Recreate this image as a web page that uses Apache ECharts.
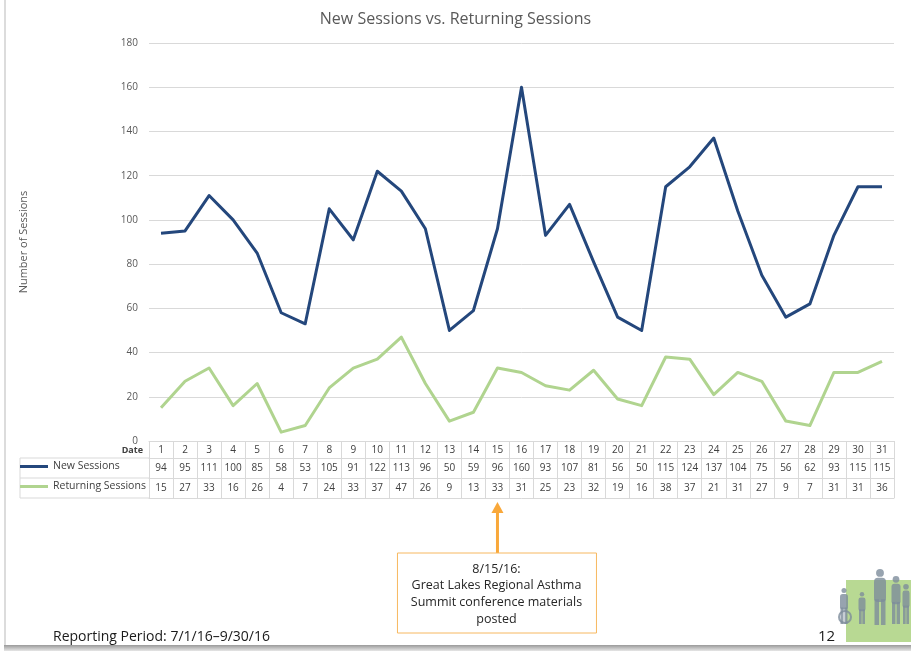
<!DOCTYPE html>
<html>
<head>
<meta charset="utf-8">
<script src="https://cdn.jsdelivr.net/npm/echarts@6/dist/echarts.min.js"></script>
<style>
html,body{margin:0;padding:0;background:#fff;}
#c{width:911px;height:651px;}
</style>
</head>
<body>
<div id="c"></div>
<script>
var dates = ['1','2','3','4','5','6','7','8','9','10','11','12','13','14','15','16','17','18','19','20','21','22','23','24','25','26','27','28','29','30','31'];
var newSessions = [94,95,111,100,85,58,53,105,91,122,113,96,50,59,96,160,93,107,81,56,50,115,124,137,104,75,56,62,93,115,115];
var returningSessions = [15,27,33,16,26,4,7,24,33,37,47,26,9,13,33,31,25,23,32,19,16,38,37,21,31,27,9,7,31,31,36];
var yTicks = {min: 0, max: 180, interval: 20};
var annotationDate = '15';
var annotationText = '8/15/16:\nGreat Lakes Regional Asthma\nSummit conference materials\nposted';

var FONT = '"Open Sans", "Noto Sans", sans-serif';
var GRIDC = '#d9d9d9';
var TXT = '#404040';
var NAVY = '#24477c';
var GREEN = '#b0d48f';

var chart = echarts.init(document.getElementById('c'), null, {renderer: 'canvas'});

function tableAxis(offset, values) {
  return {
    type: 'category', data: dates, position: 'bottom', gridIndex: 0, offset: offset,
    axisLine: {show: true, lineStyle: {color: GRIDC, width: 1}},
    axisTick: {show: false},
    axisLabel: values ? {
      show: true, interval: 0, margin: 5, color: TXT, fontSize: 10, fontFamily: FONT,
      formatter: function (v, i) { return String(values[i]); }
    } : {show: false},
    splitLine: {show: false}
  };
}

var option = {
  backgroundColor: '#fff',
  animation: false,
  textStyle: {fontFamily: FONT},
  title: {
    text: 'New Sessions vs. Returning Sessions',
    left: 'center', top: 6,
    textStyle: {fontSize: 16, fontWeight: 'normal', color: '#595959', fontFamily: FONT}
  },
  grid: {left: 149, right: 17, top: 43, bottom: 210, containLabel: false},
  legend: [
    {data: ['New Sessions'], left: 20, top: 461, padding: 0, icon: 'rect', itemWidth: 28, itemHeight: 3,
     textStyle: {color: TXT, fontSize: 10.5, fontFamily: FONT}, selectedMode: false},
    {data: ['Returning Sessions'], left: 20, top: 481, padding: 0, icon: 'rect', itemWidth: 28, itemHeight: 3,
     textStyle: {color: TXT, fontSize: 10.5, fontFamily: FONT}, selectedMode: false}
  ],
  xAxis: [
    {
      type: 'category', data: dates, position: 'bottom', boundaryGap: true,
      name: 'Date', nameLocation: 'start', nameGap: 6,
      nameTextStyle: {fontSize: 9, fontWeight: 'bold', color: TXT, fontFamily: FONT, verticalAlign: 'top', padding: [5, 0, 0, 0]},
      axisLine: {show: true, lineStyle: {color: GRIDC, width: 1}},
      axisTick: {show: true, interval: 0, length: 57, lineStyle: {color: GRIDC, width: 1}},
      axisLabel: {show: true, interval: 0, margin: 4, color: TXT, fontSize: 10, fontFamily: FONT},
      splitLine: {show: false}
    },
    tableAxis(17, newSessions),
    tableAxis(37, returningSessions),
    tableAxis(57, null)
  ],
  yAxis: {
    type: 'value', min: yTicks.min, max: yTicks.max, interval: yTicks.interval,
    name: 'Number of Sessions', nameLocation: 'middle', nameGap: 120,
    nameTextStyle: {color: '#595959', fontSize: 11, fontFamily: FONT},
    axisLine: {show: false}, axisTick: {show: false},
    axisLabel: {margin: 11, color: '#595959', fontSize: 10, fontFamily: FONT},
    splitLine: {show: true, lineStyle: {color: GRIDC, width: 1}}
  },
  series: [
    {name: 'New Sessions', type: 'line', data: newSessions, xAxisIndex: 0, showSymbol: false, symbol: 'none',
     itemStyle: {color: NAVY}, lineStyle: {color: NAVY, width: 3, join: 'round'}, z: 3},
    {name: 'Returning Sessions', type: 'line', data: returningSessions, xAxisIndex: 0, showSymbol: false, symbol: 'none',
     itemStyle: {color: GREEN}, lineStyle: {color: GREEN, width: 3, join: 'round'}, z: 2}
  ]
};
chart.setOption(option);

// decorations
var ax = chart.convertToPixel({xAxisIndex: 0}, annotationDate);
var baseY = chart.convertToPixel({yAxisIndex: 0}, 0);
var tableBottom = baseY + 57;

function hline(x1, x2, y) {
  return {type: 'line', shape: {x1: x1, y1: y, x2: x2, y2: y}, style: {stroke: GRIDC, lineWidth: 1}, silent: true};
}
var PC = 'rgba(125,140,155,0.8)';
function person(cx, top, h, w) {
  var head = h * 0.14;
  return [
    {type: 'circle', shape: {cx: cx, cy: top + head / 2, r: head / 2}, style: {fill: PC}},
    {type: 'rect', shape: {x: cx - w / 2, y: top + head + 1, width: w, height: h * 0.43, r: w / 3}, style: {fill: PC}},
    {type: 'rect', shape: {x: cx - w / 2 + 0.5, y: top + head + h * 0.40, width: w * 0.38, height: h * 0.46}, style: {fill: PC}},
    {type: 'rect', shape: {x: cx + w / 2 - 0.5 - w * 0.38, y: top + head + h * 0.40, width: w * 0.38, height: h * 0.46}, style: {fill: PC}}
  ];
}

var graphics = [
  // legend cell borders
  hline(20, 150, baseY + 17), hline(20, 150, baseY + 37), hline(20, 150, baseY + 57),
  {type: 'line', shape: {x1: 20, y1: baseY + 17, x2: 20, y2: baseY + 57}, style: {stroke: GRIDC, lineWidth: 1}, silent: true},
  // annotation arrow
  {type: 'rect', shape: {x: ax - 1.5, y: tableBottom + 12, width: 3, height: 553 - tableBottom - 12}, style: {fill: '#f9a83a'}},
  {type: 'polygon', shape: {points: [[ax, tableBottom + 4], [ax - 6, tableBottom + 15], [ax + 6, tableBottom + 15]]}, style: {fill: '#f9a83a'}},
  // annotation box
  {type: 'rect', shape: {x: ax - 100, y: 553, width: 199, height: 80}, style: {fill: '#fff', stroke: '#f7b860', lineWidth: 1}},
  {type: 'text', x: ax - 1, y: 594, style: {text: annotationText, fill: '#262626', font: '12.5px ' + FONT, align: 'center', verticalAlign: 'middle', lineHeight: 16.7}},
  // footer
  {type: 'text', x: 53, y: 637, style: {text: 'Reporting Period: 7/1/16\u20139/30/16', fill: '#1a1a1a', font: '14px ' + FONT, verticalAlign: 'middle'}},
  {type: 'text', x: 818, y: 637, style: {text: '12', fill: '#1a1a1a', font: '15px ' + FONT, verticalAlign: 'middle'}},
  // logo
  {type: 'rect', shape: {x: 846, y: 580, width: 65, height: 62}, style: {fill: '#b8d993'}},
  // slide border shadows
  {type: 'rect', shape: {x: 4, y: 0, width: 2, height: 646}, style: {fill: '#dcdcdc'}},
  {type: 'rect', shape: {x: 4, y: 645, width: 907, height: 6}, style: {fill: new echarts.graphic.LinearGradient(0, 0, 0, 1, [{offset: 0, color: '#9a9a9a'}, {offset: 1, color: '#e6e6e6'}])}}
];
graphics = graphics.concat(person(844, 588, 36, 8), person(862, 592, 32, 7), person(880, 569, 56, 12), person(896, 576, 48, 9), person(906, 584, 40, 7));
graphics.push({type: 'circle', shape: {cx: 845, cy: 617, r: 6}, style: {fill: 'none', stroke: PC, lineWidth: 2}});

chart.setOption({graphic: graphics});
</script>
</body>
</html>
